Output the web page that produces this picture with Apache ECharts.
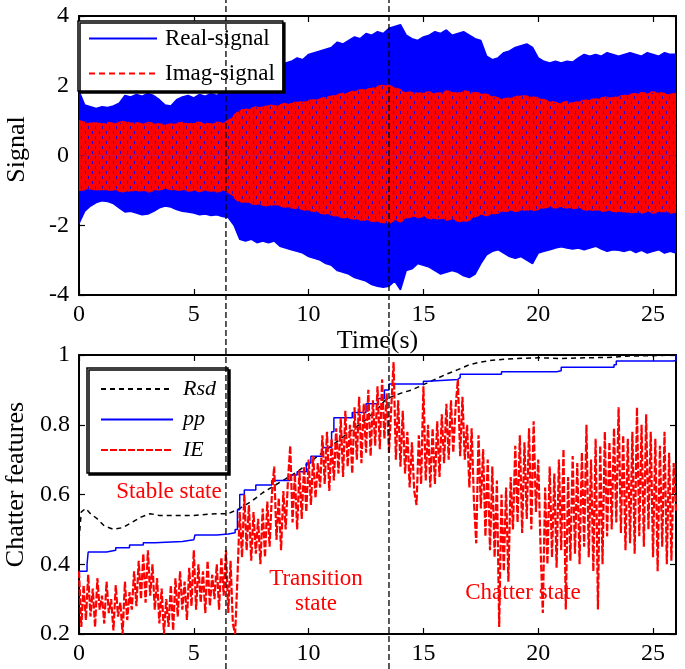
<!DOCTYPE html>
<html><head><meta charset="utf-8">
<script src="https://cdn.jsdelivr.net/npm/echarts@6/dist/echarts.min.js"></script>
<style>html,body{margin:0;padding:0;background:#fff}#c{width:685px;height:669px}</style>
</head><body><div id="c"></div>
<script>
// ---------------- data ----------------
// Envelopes of the dense signals, sampled every envStep seconds (t = 0 ... 26)
const envStep = 0.25;
const realUpper = [
1.85,1.45,1.4,1.35,1.4,1.38,1.42,1.5,
1.72,1.68,1.75,1.7,1.78,1.72,1.6,1.45,
1.42,1.6,1.68,1.72,1.65,1.75,1.7,1.78,
1.72,1.85,1.9,2.05,2.2,2.3,2.25,2.4,
2.35,2.5,2.45,2.6,2.65,2.7,2.8,2.75,
2.9,2.95,3.0,3.05,3.1,3.25,3.2,3.3,
3.4,3.35,3.5,3.45,3.55,3.5,3.65,3.7,
3.75,3.45,3.35,3.3,3.4,3.45,3.55,3.5,
3.6,3.45,3.5,3.55,3.45,3.35,3.3,2.85,
2.75,2.8,2.95,3.0,3.1,3.15,3.2,3.1,
2.8,2.7,2.65,2.7,2.65,2.7,2.68,2.8,
2.9,2.85,2.9,2.85,2.95,2.9,2.85,2.9,
2.95,2.9,2.85,2.95,2.9,2.85,2.95,2.9,
2.9];
const realLower = [
-1.95,-1.6,-1.45,-1.35,-1.3,-1.32,-1.38,-1.5,
-1.62,-1.6,-1.65,-1.7,-1.68,-1.6,-1.5,-1.45,
-1.48,-1.55,-1.6,-1.62,-1.65,-1.7,-1.68,-1.72,
-1.7,-1.75,-1.78,-2.0,-2.4,-2.45,-2.4,-2.5,
-2.45,-2.5,-2.45,-2.6,-2.65,-2.7,-2.75,-2.8,
-2.9,-2.95,-3.0,-3.1,-3.15,-3.3,-3.35,-3.4,
-3.5,-3.55,-3.6,-3.7,-3.75,-3.78,-3.75,-3.6,
-3.85,-3.3,-3.25,-3.1,-3.15,-3.2,-3.3,-3.4,
-3.35,-3.3,-3.35,-3.45,-3.5,-3.4,-3.1,-2.85,
-2.75,-2.7,-2.8,-2.9,-2.95,-2.9,-3.0,-3.1,
-2.8,-2.75,-2.7,-2.65,-2.62,-2.65,-2.68,-2.65,
-2.7,-2.65,-2.6,-2.68,-2.75,-2.7,-2.72,-2.75,
-2.7,-2.78,-2.72,-2.8,-2.75,-2.7,-2.8,-2.75,
-2.8];
const imagUpper = [
1.0,0.95,0.92,0.95,0.9,0.95,0.92,0.95,
0.98,0.92,0.95,0.9,0.95,0.92,0.9,0.88,
0.9,0.92,0.95,0.9,0.93,0.95,0.92,0.9,
0.95,0.93,1.0,1.15,1.3,1.32,1.35,1.4,
1.38,1.45,1.42,1.45,1.5,1.48,1.55,1.52,
1.58,1.6,1.62,1.68,1.7,1.75,1.78,1.8,
1.85,1.88,1.9,1.92,1.98,2.02,2.0,1.95,
1.88,1.8,1.82,1.78,1.8,1.82,1.78,1.8,
1.85,1.82,1.78,1.85,1.82,1.8,1.78,1.75,
1.7,1.65,1.62,1.65,1.68,1.72,1.7,1.68,
1.65,1.6,1.55,1.52,1.5,1.55,1.5,1.55,
1.58,1.6,1.62,1.65,1.68,1.65,1.7,1.72,
1.75,1.78,1.8,1.78,1.82,1.8,1.78,1.75,
1.78];
const imagLower = [
-1.0,-0.98,-0.95,-1.0,-0.97,-1.0,-0.98,-1.02,
-1.05,-1.0,-1.02,-1.0,-1.05,-1.0,-0.98,-0.95,
-0.97,-1.0,-0.98,-1.02,-1.0,-1.03,-1.0,-1.02,
-1.05,-1.0,-1.05,-1.2,-1.35,-1.32,-1.38,-1.4,
-1.42,-1.45,-1.4,-1.45,-1.48,-1.5,-1.52,-1.55,
-1.58,-1.6,-1.65,-1.68,-1.7,-1.75,-1.78,-1.8,
-1.82,-1.85,-1.85,-1.88,-1.9,-1.92,-1.95,-1.85,
-1.9,-1.8,-1.75,-1.78,-1.75,-1.8,-1.82,-1.8,
-1.85,-1.82,-1.88,-1.9,-1.85,-1.75,-1.7,-1.72,
-1.68,-1.65,-1.6,-1.58,-1.6,-1.58,-1.55,-1.58,
-1.55,-1.5,-1.48,-1.5,-1.48,-1.5,-1.52,-1.5,
-1.55,-1.58,-1.55,-1.6,-1.58,-1.6,-1.62,-1.6,
-1.65,-1.62,-1.65,-1.6,-1.65,-1.62,-1.6,-1.65,
-1.62];

// IE feature, sampled every ieStep seconds (t = 0 ... 26)
const ieStep = 0.1;
const ieValues = [
0.38,0.22,0.34,0.24,0.37,0.25,0.33,0.22,0.36,0.27,
0.31,0.23,0.35,0.26,0.30,0.21,0.34,0.25,0.29,0.20,
0.35,0.24,0.32,0.27,0.38,0.28,0.41,0.30,0.43,0.29,
0.44,0.31,0.40,0.27,0.36,0.23,0.33,0.20,0.30,0.22,
0.34,0.21,0.36,0.25,0.38,0.27,0.35,0.24,0.39,0.28,
0.44,0.27,0.40,0.29,0.38,0.26,0.41,0.28,0.37,0.30,
0.40,0.27,0.42,0.31,0.44,0.26,0.41,0.23,0.20,0.36,
0.55,0.42,0.60,0.44,0.57,0.41,0.55,0.43,0.53,0.40,
0.56,0.42,0.58,0.45,0.60,0.68,0.47,0.59,0.44,0.61,
0.50,0.64,0.74,0.52,0.66,0.50,0.67,0.53,0.68,0.55,
0.70,0.57,0.71,0.59,0.69,0.62,0.77,0.63,0.78,0.61,
0.76,0.64,0.79,0.66,0.82,0.65,0.84,0.68,0.80,0.66,
0.85,0.70,0.88,0.69,0.86,0.72,0.90,0.71,0.87,0.74,
0.91,0.73,0.93,0.76,0.89,0.72,0.85,0.98,0.70,0.87,
0.68,0.84,0.66,0.78,0.62,0.75,0.61,0.57,0.77,0.63,
0.91,0.64,0.80,0.62,0.79,0.63,0.81,0.65,0.83,0.69,
0.86,0.70,0.87,0.72,0.85,0.93,0.71,0.88,0.70,0.80,
0.62,0.79,0.58,0.46,0.77,0.56,0.73,0.48,0.70,0.44,
0.68,0.42,0.64,0.22,0.60,0.38,0.62,0.35,0.65,0.50,
0.74,0.52,0.77,0.49,0.75,0.53,0.79,0.50,0.81,0.55,
0.70,0.45,0.26,0.62,0.40,0.68,0.42,0.66,0.39,0.70,
0.44,0.73,0.27,0.65,0.41,0.71,0.43,0.69,0.40,0.72,
0.45,0.80,0.42,0.70,0.38,0.76,0.27,0.74,0.40,0.78,
0.48,0.75,0.50,0.79,0.52,0.85,0.49,0.77,0.44,0.76,
0.46,0.78,0.43,0.85,0.48,0.80,0.45,0.83,0.50,0.78,
0.42,0.76,0.38,0.74,0.45,0.78,0.40,0.72,0.41,0.69,
0.55];

// Rsd feature [t, value]
const rsdPoints = [[0,0.47],[0.1,0.55],[0.3,0.56],[0.5,0.545],[0.8,0.53],[1.1,0.51],[1.5,0.5],
[1.9,0.505],[2.3,0.52],[2.7,0.535],[3.1,0.545],[3.5,0.54],[4,0.54],[5,0.54],[6,0.545],
[6.5,0.545],[7,0.56],[7.5,0.58],[8,0.605],[8.5,0.625],[9,0.645],[9.5,0.665],[10,0.69],
[10.5,0.715],[11,0.74],[11.5,0.765],[12,0.79],[12.5,0.815],[13,0.845],[13.4,0.875],
[13.6,0.88],[14,0.89],[14.5,0.9],[15,0.915],[15.5,0.93],[16,0.945],[16.5,0.958],[17,0.972],
[17.5,0.98],[18,0.985],[19,0.99],[20,0.992],[21,0.99],[22,0.992],[23,0.993],[24,0.997],
[25,0.998],[26,1.0]];

// pp feature (staircase) [t, value]
const ppPoints = [[0,0.38],[0.35,0.40],[0.4,0.435],[1.2,0.44],[1.6,0.447],[2.2,0.455],
[2.8,0.462],[3.3,0.465],[4.5,0.47],[5.0,0.472],[5.05,0.484],[6.0,0.487],[6.5,0.49],
[6.8,0.50],[6.9,0.556],[7.0,0.6],[7.2,0.613],[7.7,0.627],[8.4,0.64],[9.2,0.656],
[9.5,0.665],[9.9,0.69],[10.1,0.71],[10.6,0.735],[11.0,0.78],[11.1,0.82],[11.9,0.835],
[12.5,0.86],[13.0,0.875],[13.3,0.9],[13.5,0.917],[15.0,0.925],[15.2,0.93],[16.5,0.935],
[16.6,0.945],[18.4,0.952],[20.8,0.955],[21.0,0.965],[23.3,0.972],[23.4,0.983],
[25.9,0.985],[26,1.0]];

// state boundaries (s)
const stageBounds = [6.4, 13.5];

// tick labels
const xTicks = [0, 5, 10, 15, 20, 25];
const ySignalTicks = [-4, -2, 0, 2, 4];
const yFeatureTicks = [0.2, 0.4, 0.6, 0.8, 1];

// ---------------- chart ----------------
const FONT = 'Liberation Serif';
const toPairs = (arr, step) => arr.map((v, i) => [Math.round(i * step * 100) / 100, v]);

const chart = echarts.init(document.getElementById('c'), null, {renderer: 'canvas'});

// texture for the dense imaginary-signal band (red with blue gaps)
const pat = document.createElement('canvas');
pat.width = 7; pat.height = 10;
(function () {
  const g = pat.getContext('2d');
  g.fillStyle = '#ff0000'; g.fillRect(0, 0, 7, 10);
  g.fillStyle = '#2a00d0';
  g.fillRect(1, 1, 1, 3);
  g.fillRect(4, 6, 1, 3);
})();

const lineAx = {show: true, onZero: false, lineStyle: {color: '#000', width: 2}};
const tickIn = (vals) => ({show: true, inside: true, length: 6, lineStyle: {color: '#000', width: 1.2}, customValues: vals});
const lbl = (vals, margin, fmt) => ({show: true, color: '#000', fontFamily: FONT, fontSize: 24, margin: margin, customValues: vals, formatter: fmt});

const grids = [
  {left: 79, width: 597, top: 16, height: 279, containLabel: false, outerBoundsMode: 'none'},
  {left: 79, width: 597, top: 355, height: 279, containLabel: false, outerBoundsMode: 'none'},
  {left: 79, width: 597, top: 0, height: 669, containLabel: false, outerBoundsMode: 'none'}
];

const xAxes = [
  {gridIndex: 0, type: 'value', min: 0, max: 26, position: 'bottom', axisLine: lineAx, axisTick: tickIn(xTicks),
   axisLabel: lbl(xTicks, 8), splitLine: {show: false},
   name: 'Time(s)', nameLocation: 'middle', nameGap: 31,
   nameTextStyle: {fontFamily: FONT, fontSize: 26, color: '#000'}},
  {gridIndex: 0, type: 'value', min: 0, max: 26, position: 'top', axisLine: lineAx, axisTick: tickIn(xTicks),
   axisLabel: {show: false}, splitLine: {show: false}},
  {gridIndex: 1, type: 'value', min: 0, max: 26, position: 'bottom', axisLine: lineAx, axisTick: tickIn(xTicks),
   axisLabel: lbl(xTicks, 8), splitLine: {show: false}},
  {gridIndex: 1, type: 'value', min: 0, max: 26, position: 'top', axisLine: lineAx, axisTick: tickIn(xTicks),
   axisLabel: {show: false}, splitLine: {show: false}},
  {gridIndex: 2, type: 'value', min: 0, max: 26, show: false}
];

const yAxes = [
  {gridIndex: 0, type: 'value', min: -4, max: 4, position: 'left', axisLine: lineAx, axisTick: tickIn(ySignalTicks),
   axisLabel: lbl(ySignalTicks, 10), splitLine: {show: false},
   name: 'Signal', nameLocation: 'middle', nameGap: 49, nameRotate: 90,
   nameTextStyle: {fontFamily: FONT, fontSize: 26, color: '#000', padding: [0, 0, 0, 12]}},
  {gridIndex: 0, type: 'value', min: -4, max: 4, position: 'right', axisLine: lineAx, axisTick: tickIn(ySignalTicks),
   axisLabel: {show: false}, splitLine: {show: false}},
  {gridIndex: 1, type: 'value', min: 0.2, max: 1, position: 'left', axisLine: lineAx, axisTick: tickIn(yFeatureTicks),
   axisLabel: lbl(yFeatureTicks, 9, v => String(Math.round(v * 10) / 10)), splitLine: {show: false},
   name: 'Chatter features', nameLocation: 'middle', nameGap: 49, nameRotate: 90,
   nameTextStyle: {fontFamily: FONT, fontSize: 26, color: '#000', padding: [0, 0, 0, 20]}},
  {gridIndex: 1, type: 'value', min: 0.2, max: 1, position: 'right', axisLine: lineAx, axisTick: tickIn(yFeatureTicks),
   axisLabel: {show: false}, splitLine: {show: false}},
  {gridIndex: 2, type: 'value', min: 0, max: 1, show: false}
];

const BLUE = '#0000ff', RED = '#ff0000';
const envSeries = (name, arr, color, fill, dash, z) => ({
  name: name, type: 'line', xAxisIndex: 0, yAxisIndex: 0, data: toPairs(arr, envStep),
  symbol: 'none', showSymbol: false, z: z, silent: true,
  itemStyle: {color: color},
  lineStyle: {color: color, width: 1.5, type: dash},
  areaStyle: {color: fill, opacity: 1, origin: 'auto'}
});
const redFill = {image: pat, repeat: 'repeat'};

const series = [
  envSeries('Real-signal', realUpper, BLUE, BLUE, 'solid', 2),
  envSeries('Real-signal', realLower, BLUE, BLUE, 'solid', 2),
  envSeries('Imag-signal', imagUpper, RED, redFill, [6, 4], 3),
  envSeries('Imag-signal', imagLower, RED, redFill, [6, 4], 3),
  {name: 'Rsd', type: 'line', xAxisIndex: 2, yAxisIndex: 2, data: rsdPoints, symbol: 'none', z: 3,
   itemStyle: {color: '#000'}, lineStyle: {color: '#000', width: 1.5, type: [5, 4]}},
  {name: 'pp', type: 'line', xAxisIndex: 2, yAxisIndex: 2, data: ppPoints, symbol: 'none', step: 'end', z: 3,
   itemStyle: {color: BLUE}, lineStyle: {color: BLUE, width: 1.5}},
  {name: 'IE', type: 'line', xAxisIndex: 2, yAxisIndex: 2, data: toPairs(ieValues, ieStep), symbol: 'none', z: 4,
   itemStyle: {color: RED}, lineStyle: {color: RED, width: 2.2, type: [7, 2]}}
];
stageBounds.forEach((b, i) => series.push({
  name: 'bound' + i, type: 'line', xAxisIndex: 4, yAxisIndex: 4, data: [[b, 0], [b, 1]],
  symbol: 'none', silent: true, z: 20, lineStyle: {color: '#000', width: 1.3, type: [6, 3]}
}));

const legendBase = {
  orient: 'vertical', backgroundColor: '#fff', borderColor: '#000', borderWidth: 1.5, borderRadius: 0,
  shadowColor: '#000', shadowBlur: 0, shadowOffsetX: 2, shadowOffsetY: 2, selectedMode: false,
  itemHeight: 20, align: 'left',
  itemStyle: {opacity: 0, color: 'rgba(0,0,0,0)', borderColor: 'rgba(0,0,0,0)', borderWidth: 0}
};

const annText = (txt, x, y) => ({type: 'text', x: x, y: y, z: 30, silent: true,
  style: {text: txt, fill: RED, font: '23px "' + FONT + '"', align: 'center', verticalAlign: 'middle'}});

chart.setOption({
  animation: false,
  backgroundColor: '#fff',
  grid: grids,
  xAxis: xAxes,
  yAxis: yAxes,
  legend: [
    Object.assign({}, legendBase, {
      data: ['Real-signal', 'Imag-signal'], left: 78, top: 21, itemWidth: 68, itemGap: 12,
      padding: [6, 8, 6, 10],
      textStyle: {fontFamily: FONT, fontSize: 23, color: '#000', padding: [0, 0, 0, 3]}
    }),
    Object.assign({}, legendBase, {
      data: ['Rsd', 'pp', 'IE'], left: 87, top: 368, itemWidth: 72, itemGap: 8.5,
      padding: [10, 12, 12, 13],
      textStyle: {fontFamily: FONT, fontSize: 22, fontStyle: 'italic', color: '#000', padding: [0, 0, 0, 5]}
    })
  ],
  graphic: [
    annText('Stable state', 169, 492),
    annText('Transition', 316, 579),
    annText('state', 316, 604),
    annText('Chatter state', 523, 593)
  ],
  series: series
});
</script>
</body></html>
